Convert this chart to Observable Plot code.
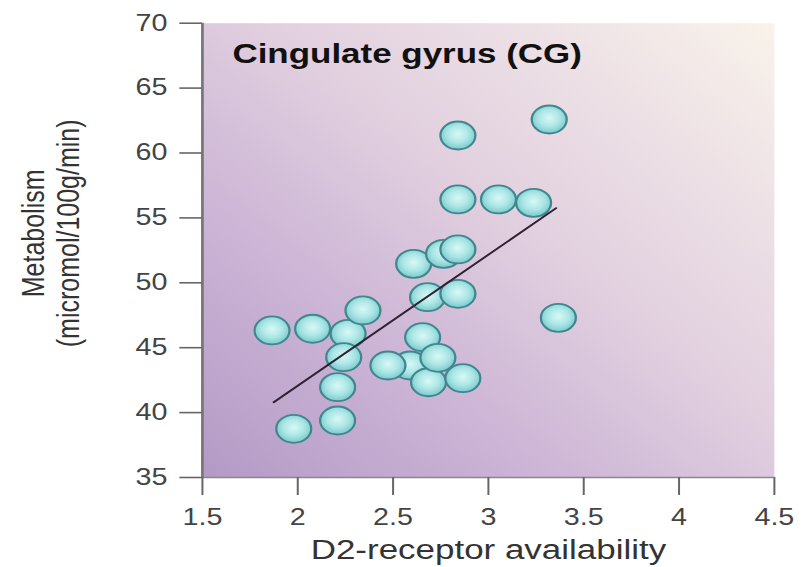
<!DOCTYPE html>
<html><head><meta charset="utf-8">
<script src="https://cdn.jsdelivr.net/npm/d3@7"></script>
<script src="https://cdn.jsdelivr.net/npm/@observablehq/plot@0.6"></script>
<style>
html,body{margin:0;padding:0;background:#fff;overflow:hidden;}
#chart{width:643px;height:567px;transform:scaleX(1.2488);transform-origin:0 0;}
</style></head><body><div id="chart"></div>
<script>
const title = "Cingulate gyrus (CG)";
const xLabel = "D2-receptor availability";
const yLabel = ["Metabolism", "(micromol/100g/min)"];
const xTicks = [1.5, 2, 2.5, 3, 3.5, 4, 4.5];
const yTicks = [35, 40, 45, 50, 55, 60, 65, 70];

const d2 = [1.979, 2.209, 2.209, 1.865, 2.078, 2.264, 2.241, 2.342, 2.590, 2.473, 2.686, 2.866, 2.655, 2.735,
            2.681, 2.840, 2.608, 2.765, 2.840, 2.840, 3.053, 3.237, 2.840, 3.319, 3.367];
const metabolism = [38.75, 39.39, 41.96, 46.33, 46.46, 46.07, 44.27, 47.87, 43.63, 43.63, 42.34, 42.65, 45.81, 44.22,
            48.89, 49.15, 51.46, 52.23, 52.57, 56.42, 56.42, 56.16, 61.35, 62.58, 47.30];

const fitX = [1.874, 3.355];
const fitY = [40.80, 55.75];

const points = d2.map((x, i) => ({x, y: metabolism[i]}));
const fit = fitX.map((x, i) => ({x, y: fitY[i]}));

const chart = Plot.plot({
  width: 643,
  height: 567,
  marginLeft: 161.6,
  marginRight: 23.4,
  marginTop: 22.7,
  marginBottom: 90,
  style: {fontFamily: "'Liberation Sans', Arial, sans-serif", background: "transparent", overflow: "visible"},
  x: {domain: [1.5, 4.5]},
  y: {domain: [35, 70]},
  marks: [
    Plot.frame({fill: "url(#bgGrad)", stroke: "none"}),
    Plot.ruleY([35], {stroke: "#888", strokeWidth: 1.5}),
    Plot.ruleX([1.5], {stroke: "#777", strokeWidth: 2.2}),
    Plot.axisX({ticks: xTicks, tickSize: 18, tickPadding: 13, fontSize: 23, label: null, stroke: "#666", strokeWidth: 1.6, fill: "#444", tickFormat: d => String(d)}),
    Plot.axisY({ticks: yTicks, tickSize: 18, tickPadding: 10, fontSize: 23, label: null, stroke: "#666", strokeWidth: 1.6, fill: "#444"}),
    Plot.dot(points, {x: "x", y: "y", r: 14, fill: "url(#dotGrad)", stroke: "#3f878d", strokeWidth: 1.8}),
    Plot.line(fit, {x: "x", y: "y", stroke: "#2e2233", strokeWidth: 1.8}),
    Plot.text([title], {frameAnchor: "top-left", textAnchor: "start", lineAnchor: "bottom", dx: 24, dy: 40, fontSize: 28, fontWeight: "bold", fill: "#111"}),
    Plot.text([xLabel], {frameAnchor: "bottom", lineAnchor: "bottom", dy: 81, fontSize: 28, fill: "#333"}),
    Plot.text([yLabel.join("\n")], {frameAnchor: "left", textAnchor: "middle", rotate: -90, dx: -122, dy: -17, fontSize: 25, lineHeight: 1.12, fill: "#333"})
  ]
});

const defs = d3.select(chart).insert("defs", ":first-child");
const bg = defs.append("linearGradient").attr("id", "bgGrad")
  .attr("x1", 0).attr("y1", 1).attr("x2", 1).attr("y2", 0);
[[0, "#b39ac6"], [0.3, "#ccb5d6"], [0.55, "#e1cfdf"], [0.8, "#eee2e6"], [1, "#f9f3ea"]]
  .forEach(([o, c]) => bg.append("stop").attr("offset", o).attr("stop-color", c));
const dg = defs.append("radialGradient").attr("id", "dotGrad")
  .attr("cx", "50%").attr("cy", "45%").attr("r", "55%");
[[0, "#d8f8f7"], [0.55, "#ace6e6"], [1, "#79c9cc"]]
  .forEach(([o, c]) => dg.append("stop").attr("offset", o).attr("stop-color", c));

document.getElementById("chart").appendChild(chart);
</script>
</body></html>
